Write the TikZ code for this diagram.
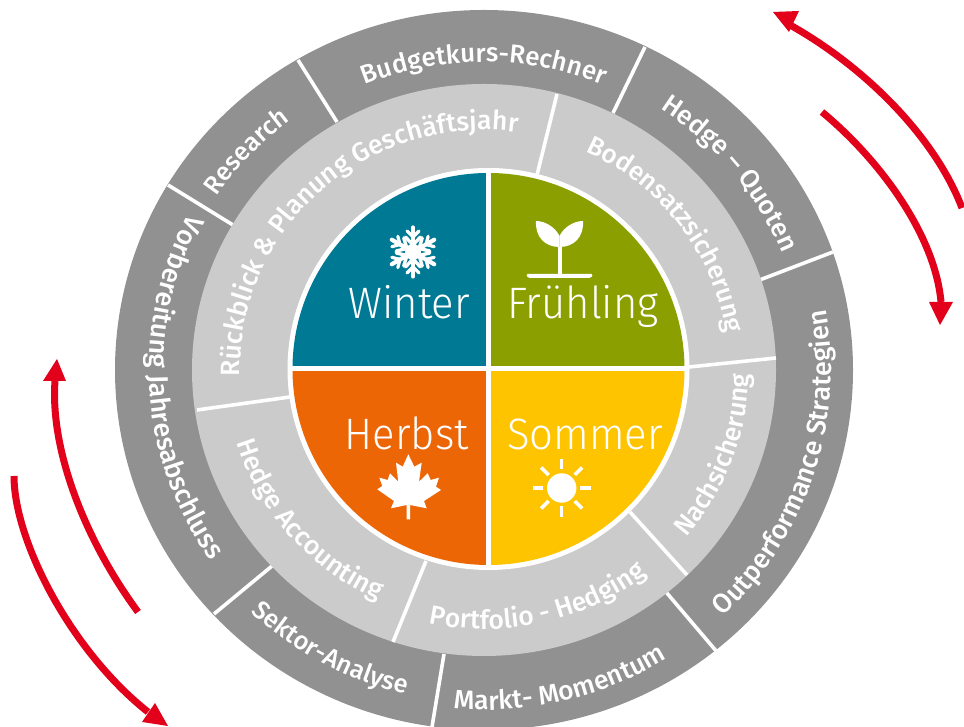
\documentclass[tikz,border=0pt]{standalone}
\usepackage{fontspec}
\setmainfont{Fira Sans Medium}
\newfontfamily\lightfont[FakeStretch=0.95]{Fira Sans Light}
\usetikzlibrary{decorations.text,calc}
\definecolor{outergray}{HTML}{919191}
\definecolor{midgray}{HTML}{CBCBCB}
\definecolor{winterc}{HTML}{007A94}
\definecolor{springc}{HTML}{8BA000}
\definecolor{summerc}{HTML}{FFC400}
\definecolor{autumnc}{HTML}{ED6606}
\definecolor{redarrow}{HTML}{E2001A}
% [#1] font size, #2 centre angle, #3 half span, #4 rx, #5 ry, #6 text
\newcommand{\cwtext}[6][26]{\path[decorate,decoration={text along path,text align=center,text={|\fontsize{#1}{#1}\selectfont\color{white}|#6}}]
  ($(C)+({#2+#3}:#4 and #5)$) arc[start angle={#2+#3},end angle={#2-#3},x radius=#4,y radius=#5];}
\newcommand{\ccwtext}[6][26]{\path[decorate,decoration={text along path,text align=center,text={|\fontsize{#1}{#1}\selectfont\color{white}|#6}}]
  ($(C)+({#2-#3}:#4 and #5)$) arc[start angle={#2-#3},end angle={#2+#3},x radius=#4,y radius=#5];}
\tikzset{
  divider/.style={draw=white,line width=3.6pt},
  season/.style={text=white,font=\lightfont\fontsize{44}{44}\selectfont,inner sep=0pt},
  redline/.style={draw=redarrow,line width=7pt},
  redhead/.style={fill=redarrow},
  icon/.style={draw=white,line cap=round},
}
\begin{document}
\begin{tikzpicture}[x=1pt,y=1pt]
\useasboundingbox (0,0) rectangle (964,727);
\fill[white] (0,0) rectangle (964,727);
\coordinate (C) at (484,357);
\coordinate (D) at (488.5,358);
% rings
\fill[outergray] (C) ellipse[x radius=369,y radius=360];
% outer dividers
\draw[divider] (298,667) -- (337,605);
\draw[divider] (645,680) -- (613,614);
\draw[divider] (833,475) -- (757,446);
\draw[divider] (717,75) -- (666,135);
\draw[divider] (444,73) -- (432,0);
\draw[divider] (272,161) -- (214,113);
\draw[divider] (168,542) -- (233,502);
\fill[midgray] (C) ellipse[x radius=292,y radius=286];
% mid dividers
\draw[divider] (557,633) -- (537,552);
\draw[divider] (776,369) -- (689,360);
\draw[divider] (687,152) -- (630,215);
\draw[divider] (426,166) -- (393,85);
\draw[divider] (197,317) -- (290,330);
% centre disc
\fill[white] (D) circle[radius=201];
\fill[winterc] (D) -- ++(-196,0) arc[start angle=180,end angle=90,radius=196] -- cycle;
\fill[springc] (D) -- ++(196,0) arc[start angle=0,end angle=90,radius=196] -- cycle;
\fill[summerc] (D) -- ++(196,0) arc[start angle=0,end angle=-90,radius=196] -- cycle;
\fill[autumnc] (D) -- ++(-196,0) arc[start angle=180,end angle=270,radius=196] -- cycle;
\draw[white,line width=5pt] ($(D)+(-198,0)$) -- ($(D)+(198,0)$);
\draw[white,line width=5pt] ($(D)+(0,-198)$) -- ($(D)+(0,198)$);
% season labels
\node[season,anchor=base east] (winter) at (470,408) {Winter};
\node[season,anchor=base west] (fruehling) at (507,408) {Frühling};
\node[season,anchor=base east] (herbst) at (469,277) {Herbst};
\node[season,anchor=base west] (sommer) at (507,277) {Sommer};
% outer ring text
\cwtext[26]{90}{60}{316}{308}{Budgetkurs-Rechner}
\cwtext[25.5]{137}{40}{321}{313}{Research}
\cwtext[26.5]{39}{40}{321}{313}{Hedge – Quoten}
\ccwtext[27]{-18}{50}{347}{340}{Outperformance Strategien}
\ccwtext[26.5]{-76.5}{40}{347}{340}{Markt- Momentum}
\ccwtext[25.5]{-118.5}{40}{340}{333}{Sektor-Analyse}
\ccwtext[27]{183.5}{50}{335}{330}{Vorbereitung Jahresabschluss}
% mid ring text
\cwtext[26.5]{132}{70}{244}{240}{Rückblick {\&} Planung Geschäftsjahr}
\cwtext[26]{37}{45}{245}{240}{Bodensatzsicherung}
\ccwtext[26.5]{-20.5}{40}{265}{259}{Nachsicherung}
\ccwtext[26.5]{-77}{45}{265}{259}{Portfolio - Hedging}
\ccwtext[26.5]{221}{45}{258}{252}{Hedge Accounting}
% snowflake
\begin{scope}[shift={(413,475)}]
\foreach \a in {30,90,...,330}{
  \begin{scope}[rotate=\a]
  \draw[icon,line width=4.2pt] (0,0) -- (24.5,0);
  \draw[icon,line width=3.4pt] (7,0) -- (15,7.5) (7,0) -- (15,-7.5);
  \draw[icon,line width=3.2pt] (15,0) -- (21,6) (15,0) -- (21,-6);
  \end{scope}}
\fill[white] (0,0) circle[radius=8];
\end{scope}
% sprout
\fill[white,rounded corners=1.5pt] (526,453) -- (593,453) -- (591,449) -- (528,449) -- cycle;
\fill[white] (557.5,452) rectangle (561.5,480);
\fill[white] (536,506) .. controls (545,506) and (555,500) .. (559.5,491) .. controls (559.5,486) and (559.5,482) .. (559.5,480) .. controls (545,480) and (535,490) .. (536,506) -- cycle;
\fill[white] (583,506) .. controls (574,506) and (564,500) .. (559.5,491) .. controls (559.5,486) and (559.5,482) .. (559.5,480) .. controls (574,480) and (584,490) .. (583,506) -- cycle;
% maple leaf
\fill[white] (408.3,272.7) -- (414.3,260.3) -- (421.7,264.3) -- (419,245.3) -- (427.7,253.7) -- (430.7,247) -- (439,249.3) -- (436,240.3) -- (441,237) -- (424,226) -- (426.7,218.7) -- (410,222) -- (410,207.7) -- (406.7,207.7) -- (406.7,222) -- (391,218.7) -- (394,226) -- (377.3,237.7) -- (382.3,241) -- (379.3,249.3) -- (387.7,247) -- (390,253.7) -- (398.3,245.3) -- (396,264.3) -- (402.7,260.3) -- cycle;
% sun
\begin{scope}[shift={(561.7,239)}]
\fill[white] (0,0) circle[radius=14.7];
\foreach \a in {0,45,...,315}{\draw[white,line width=3.5pt] (\a:18.5) -- (\a:29);}
\end{scope}
% arrows
\coordinate (a1s) at (962,519);
\coordinate (a1e) at (790,702);
\draw[redline] (a1s) .. controls (935,590) and (865,660) .. (a1e);
\fill[redhead] (773,715) -- (799,716) -- (789,695) -- cycle;
\coordinate (a2s) at (822,615);
\coordinate (a2e) at (941,425);
\draw[redline] (a2s) .. controls (880,567) and (935,492) .. (a2e);
\fill[redhead] (940,402) -- (929,425) -- (953,425) -- cycle;
\coordinate (a3s) at (138,115);
\coordinate (a3e) at (55,346);
\draw[redline] (a3s) .. controls (85,187) and (50,277) .. (a3e);
\fill[redhead] (57,368) -- (43,346) -- (66,346) -- cycle;
\coordinate (a4s) at (14,251);
\coordinate (a4e) at (148,15);
\draw[redline] (a4s) .. controls (14,187) and (70,77) .. (a4e);
\fill[redhead] (168,1) -- (142,5) -- (155,24) -- cycle;
\end{tikzpicture}
\end{document}
